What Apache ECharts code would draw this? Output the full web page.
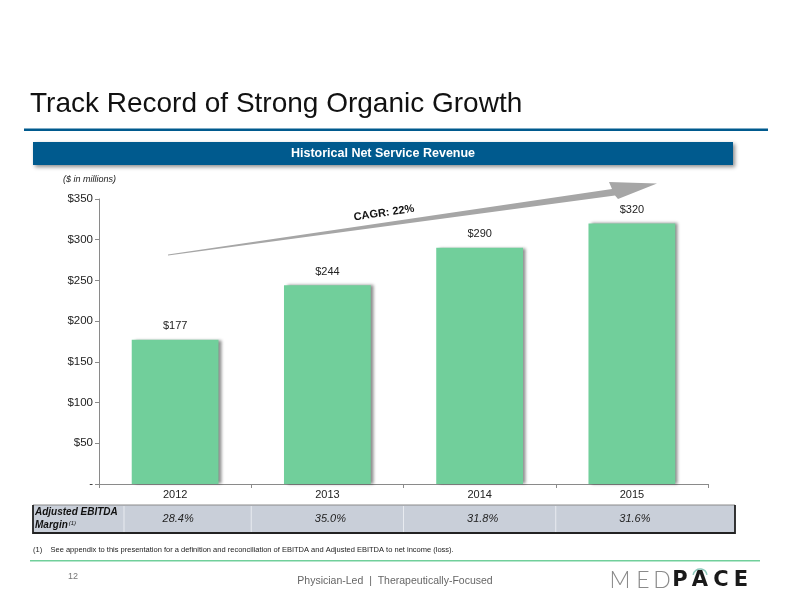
<!DOCTYPE html>
<html><head><meta charset="utf-8">
<script src="https://cdn.jsdelivr.net/npm/echarts@6/dist/echarts.min.js"></script>
<style>html,body{margin:0;padding:0;background:#fff}#c{width:792px;height:612px}</style>
</head><body><div id="c"></div>
<script>
var categories = ['2012', '2013', '2014', '2015'];
var revenue = [177, 244, 290, 320];
var ebitdaMargin = ['28.4%', '35.0%', '31.8%', '31.6%'];
var yTicks = [0, 50, 100, 150, 200, 250, 300, 350];

var chart = echarts.init(document.getElementById('c'), null, {renderer: 'canvas'});
var F = 'Liberation Sans, Arial, sans-serif';

var option = {
  animation: false,
  backgroundColor: '#fff',
  grid: {left: 99, right: 84, top: 199, bottom: 128},
  xAxis: {
    type: 'category', data: categories,
    axisLine: {lineStyle: {color: '#8a8a8a', width: 1}},
    axisTick: {show: true, length: 4, lineStyle: {color: '#8a8a8a'}},
    axisLabel: {color: '#222', fontFamily: F, fontSize: 11, margin: 5}
  },
  yAxis: {
    type: 'value', min: yTicks[0], max: yTicks[yTicks.length - 1], interval: yTicks[1] - yTicks[0],
    splitLine: {show: false},
    axisLine: {show: true, lineStyle: {color: '#8a8a8a', width: 1}},
    axisTick: {show: true, length: 4, lineStyle: {color: '#8a8a8a'}},
    axisLabel: {color: '#222', fontFamily: F, fontSize: 11.5, margin: 6,
      formatter: function (v) { return v === 0 ? '-' : '$' + v; }}
  },
  series: [{
    type: 'bar', data: revenue, barWidth: '57%',
    itemStyle: {color: '#71CF9B', shadowColor: 'rgba(0,0,0,0.45)', shadowBlur: 3, shadowOffsetX: 3, shadowOffsetY: 0},
    label: {show: true, position: 'top', distance: 8, color: '#222', fontFamily: F, fontSize: 11,
      formatter: function (p) { return '$' + p.value; }}
  }]
};
chart.setOption(option);

var els = [];
// Title
els.push({type: 'text', left: 30, top: 90, style: {text: 'Track Record of Strong Organic Growth', font: '28px ' + F, fill: '#111'}});
els.push({type: 'rect', shape: {x: 24, y: 128.5, width: 744, height: 2.5}, style: {fill: '#005A8E'}});
// Header bar
els.push({type: 'rect', shape: {x: 33, y: 142, width: 700, height: 23}, style: {fill: '#005A8E', shadowColor: 'rgba(0,0,0,0.45)', shadowBlur: 4, shadowOffsetX: 2, shadowOffsetY: 2}});
els.push({type: 'text', x: 383, y: 153.5, style: {text: 'Historical Net Service Revenue', font: 'bold 12.5px ' + F, fill: '#fff', textAlign: 'center', textVerticalAlign: 'middle'}});
els.push({type: 'text', x: 63, y: 179, style: {text: '($ in millions)', font: 'italic 9px ' + F, fill: '#222', textVerticalAlign: 'middle'}});
// Arrow
els.push({type: 'polygon', shape: {points: [[168, 254.5], [612, 189], [609, 182], [657, 183.5], [618, 199], [615, 195.5], [168, 255.5]]}, style: {fill: '#A6A6A6'}});
els.push({type: 'text', x: 384, y: 213, rotation: 8.3 * Math.PI / 180, style: {text: 'CAGR: 22%', font: 'bold 11px ' + F, fill: '#111', textAlign: 'center', textVerticalAlign: 'middle'}});

// Table row
els.push({type: 'rect', shape: {x: 33, y: 505, width: 702, height: 28}, style: {fill: '#C9CFD9'}});
els.push({type: 'line', shape: {x1: 33, y1: 505, x2: 735, y2: 505}, style: {stroke: '#8a8a8a', lineWidth: 1}});
els.push({type: 'polyline', shape: {points: [[33, 505], [33, 533], [735, 533], [735, 505]]}, style: {stroke: '#222', lineWidth: 1.8, fill: null}});
var half = (chart.convertToPixel({xAxisIndex: 0}, categories[1]) - chart.convertToPixel({xAxisIndex: 0}, categories[0])) / 2;
categories.forEach(function (c, i) {
  var cx = chart.convertToPixel({xAxisIndex: 0}, c);
  if (i > 0) els.push({type: 'line', shape: {x1: cx - half, y1: 506, x2: cx - half, y2: 532}, style: {stroke: '#e8ebf0', lineWidth: 1}});
  els.push({type: 'text', x: cx + 3, y: 519, style: {text: ebitdaMargin[i], font: 'italic 11px ' + F, fill: '#222', textAlign: 'center', textVerticalAlign: 'middle'}});
});
els.push({type: 'line', shape: {x1: 124, y1: 506, x2: 124, y2: 532}, style: {stroke: '#e8ebf0', lineWidth: 1}});
els.push({type: 'text', x: 35, y: 512.5, style: {text: 'Adjusted EBITDA', font: 'bold italic 10px ' + F, fill: '#111', textVerticalAlign: 'middle'}});
els.push({type: 'text', x: 35, y: 525.5, style: {text: '{a|Margin}{b|(1)}', rich: {a: {font: 'bold italic 10px ' + F, fill: '#111'}, b: {font: 'italic 6px ' + F, fill: '#111', verticalAlign: 'top', padding: [0, 0, 4, 1]}}, textVerticalAlign: 'middle'}});

// Footnote
els.push({type: 'text', x: 33, y: 550, style: {text: '(1)    See appendix to this presentation for a definition and reconciliation of EBITDA and Adjusted EBITDA to net income (loss).', font: '7.5px ' + F, fill: '#222', textVerticalAlign: 'middle'}});
els.push({type: 'rect', shape: {x: 30, y: 560, width: 730, height: 1.5}, style: {fill: '#71CF9B'}});
els.push({type: 'text', x: 68, y: 577, style: {text: '12', font: '9px ' + F, fill: '#777', textVerticalAlign: 'middle'}});
els.push({type: 'text', x: 395, y: 581, style: {text: 'Physician-Led  |  Therapeutically-Focused', font: '10.5px ' + F, fill: '#666', textAlign: 'center', textVerticalAlign: 'middle'}});
// Logo
var thin = [['M', 620], ['E', 643], ['D', 662]];
thin.forEach(function (l) {
  els.push({type: 'text', x: l[1], y: 581, style: {text: l[0], font: '300 23px Lato, "Open Sans", sans-serif', fill: '#8a8a8a', textAlign: 'center', textVerticalAlign: 'middle'}});
});
var bold = [['P', 680], ['A', 700], ['C', 721], ['E', 741]];
bold.forEach(function (l) {
  els.push({type: 'text', x: l[1], y: 581, style: {text: l[0], font: 'bold 21px "DejaVu Sans", sans-serif', fill: '#1a1a1a', textAlign: 'center', textVerticalAlign: 'middle'}});
});
els.push({type: 'arc', shape: {cx: 700, cy: 576, r: 7, startAngle: Math.PI * 1.05, endAngle: Math.PI * 1.95}, style: {stroke: '#8FC9BC', lineWidth: 1.5, fill: null}});

chart.setOption({graphic: {elements: els}});
</script></body></html>
